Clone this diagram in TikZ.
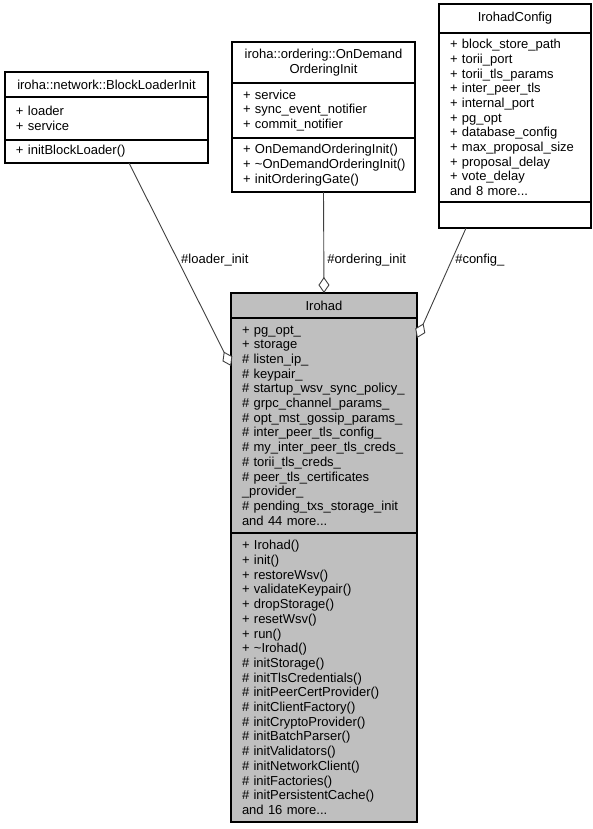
\documentclass[tikz,border=0pt]{standalone}
\usepackage{fontspec}
\setmainfont{Liberation Sans}
\usetikzlibrary{positioning,arrows.meta,calc}
\definecolor{classgray}{HTML}{BFBFBF}
\definecolor{edgegray}{HTML}{404040}
\begin{document}
\begin{tikzpicture}[x=1pt,y=-1pt,
		part/.style={draw,line width=1.1pt,inner xsep=11pt,inner ysep=0pt,outer sep=0pt,font=\fontsize{13}{14.7}\selectfont},
		head/.style={part,align=center},
		member/.style={part,align=left},
		aggr/.style={draw=edgegray,line width=0.9pt,-{Diamond[fill=white,length=16pt,width=11pt]}},
		lbl/.style={font=\fontsize{13}{14.7}\selectfont,inner xsep=3pt,inner ysep=1pt}]
		  \useasboundingbox (0,0) rectangle (592,829);
		  \node[head,anchor=north west,text width=181pt,minimum height=25pt] (loaderHead) at (5,72) {iroha::network::BlockLoaderInit};
		  \node[member,below=0pt of loaderHead,text width=181pt,minimum height=43pt] (loaderAttr) {+ loader\\+ service};
		  \node[member,below=0pt of loaderAttr,text width=181pt,minimum height=23pt] (loaderOps) {+ initBlockLoader()};
		  \node[head,anchor=north west,text width=161pt,minimum height=41pt] (orderHead) at (232,42) {iroha::ordering::OnDemand\\OrderingInit};
		  \node[member,below=0pt of orderHead,text width=161pt,minimum height=55pt] (orderAttr) {+ service\\+ sync\_event\_notifier\\+ commit\_notifier};
		  \node[member,below=0pt of orderAttr,text width=161pt,minimum height=54pt] (orderOps) {+ OnDemandOrderingInit()\\\mbox{+ \textasciitilde OnDemandOrderingInit()}\\+ initOrderingGate()};
		  \node[head,anchor=north west,text width=130pt,minimum height=29pt] (configHead) at (439,4) {IrohadConfig};
		  \node[member,below=0pt of configHead,text width=130pt,minimum height=169pt] (configAttr) {+ block\_store\_path\\+ torii\_port\\+ torii\_tls\_params\\+ inter\_peer\_tls\\+ internal\_port\\+ pg\_opt\\+ database\_config\\+ max\_proposal\_size\\+ proposal\_delay\\+ vote\_delay\\and 8 more...};
		  \node[member,below=0pt of configAttr,text width=130pt,minimum height=26pt] (configOps) {};
		  \node[head,fill=classgray,anchor=north west,text width=164pt,minimum height=25pt] (irohadHead) at (231,293) {Irohad};
		  \node[member,fill=classgray,below=0pt of irohadHead,text width=164pt,minimum height=215pt] (irohadAttr) {+ pg\_opt\_\\+ storage\\\# listen\_ip\_\\\# keypair\_\\\# startup\_wsv\_sync\_policy\_\\\# grpc\_channel\_params\_\\\# opt\_mst\_gossip\_params\_\\\# inter\_peer\_tls\_config\_\\\# my\_inter\_peer\_tls\_creds\_\\\# torii\_tls\_creds\_\\\# peer\_tls\_certificates\\\_provider\_\\\# pending\_txs\_storage\_init\\and 44 more...};
		  \node[member,fill=classgray,below=0pt of irohadAttr,text width=164pt,minimum height=289pt] (irohadOps) {+ Irohad()\\+ init()\\+ restoreWsv()\\+ validateKeypair()\\+ dropStorage()\\+ resetWsv()\\+ run()\\+ \textasciitilde Irohad()\\\# initStorage()\\\# initTlsCredentials()\\\# initPeerCertProvider()\\\# initClientFactory()\\\# initCryptoProvider()\\\# initBatchParser()\\\# initValidators()\\\# initNetworkClient()\\\# initFactories()\\\# initPersistentCache()\\and 16 more...};
		  \draw[aggr] ($(loaderOps.south west)!0.611!(loaderOps.south east)$) -- node[lbl,anchor=west,pos=0.478] {\#loader\_init} ($(irohadAttr.north west)!0.223!(irohadAttr.south west)$);
		  \draw[aggr] (orderOps.south) -- node[lbl,anchor=west,pos=0.67] {\#ordering\_init} (irohadHead.north);
		  \draw[aggr] ($(configOps.south west)!0.178!(configOps.south east)$) -- node[lbl,anchor=west,pos=0.29] {\#config\_} ($(irohadAttr.north east)!0.093!(irohadAttr.south east)$);
\end{tikzpicture}
\end{document}
